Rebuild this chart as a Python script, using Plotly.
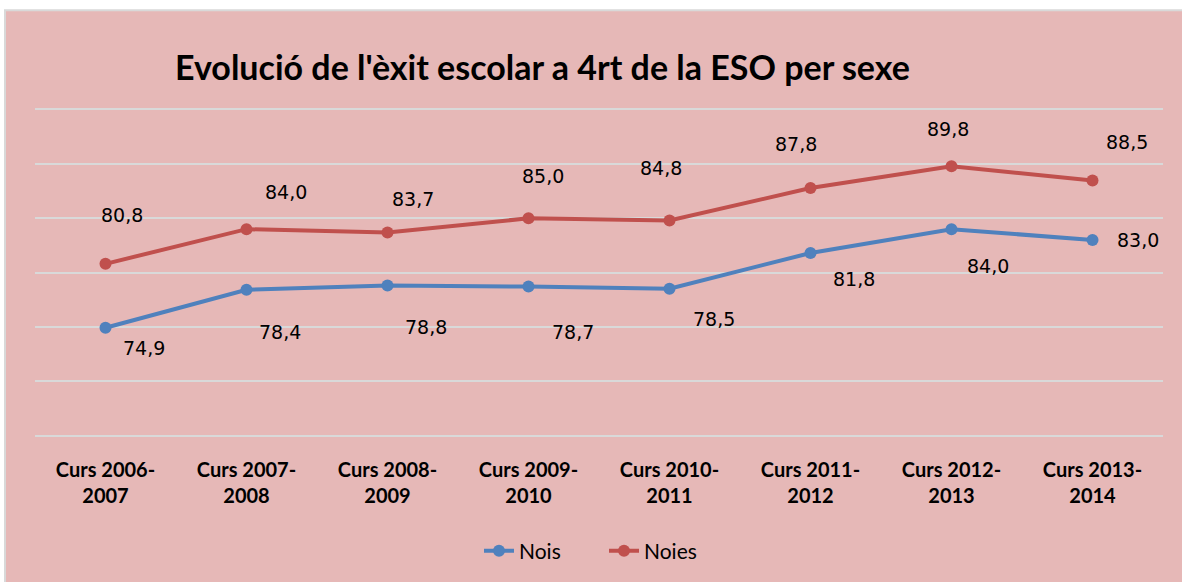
import plotly.graph_objects as go

# ---- data ----
cursos = ["Curs 2006-<br>2007", "Curs 2007-<br>2008", "Curs 2008-<br>2009", "Curs 2009-<br>2010",
          "Curs 2010-<br>2011", "Curs 2011-<br>2012", "Curs 2012-<br>2013", "Curs 2013-<br>2014"]
nois = [74.9, 78.4, 78.8, 78.7, 78.5, 81.8, 84.0, 83.0]
noies = [80.8, 84.0, 83.7, 85.0, 84.8, 87.8, 89.8, 88.5]

# ---- label offsets (pixels, style only) ----
nois_dx = [38, 33, 38, 44, 44, 43, 36, 45]
nois_dy = [-20, -42, -41, -45, -30, -26, -37, 0]
noies_dx = [16, 39, 25, 14, -9, -15, -4, 34]
noies_dy = [49, 37, 33, 42, 53, 44, 37, 38]

BLUE = "#4F81BD"
RED = "#C0504D"
PINK = "#E6B8B7"
GRID = "#D9D9D9"

W, H = 1182, 582
L, R, T, B = 35, 19, 110, 146
pw, ph = W - L - R, H - T - B

fig = go.Figure()
fig.add_trace(go.Scatter(x=cursos, y=nois, name="Nois", mode="lines+markers",
                         line=dict(color=BLUE, width=4), marker=dict(size=12, color=BLUE)))
fig.add_trace(go.Scatter(x=cursos, y=noies, name="Noies", mode="lines+markers",
                         line=dict(color=RED, width=4), marker=dict(size=12, color=RED)))

fmt = lambda v: f"{v:.1f}".replace(".", ",")
for xs, ys, dxs, dys in [(cursos, nois, nois_dx, nois_dy), (cursos, noies, noies_dx, noies_dy)]:
    for x, y, dx, dy in zip(xs, ys, dxs, dys):
        fig.add_annotation(x=x, y=y, text=fmt(y), showarrow=False, xshift=dx, yshift=dy,
                           font=dict(family="DejaVu Sans", size=19, color="#000000"))

# pink chart area with grey border
fig.add_shape(type="rect", xref="paper", yref="paper",
              x0=(5 - L) / pw, x1=(W + 10 - L) / pw,
              y0=(ph - (H + 10 - T)) / ph, y1=(ph - (10 - T)) / ph,
              fillcolor=PINK, line=dict(color=GRID, width=2), layer="below")

fig.update_layout(
    width=W, height=H,
    margin=dict(l=L, r=R, t=T, b=B),
    paper_bgcolor="white", plot_bgcolor="rgba(0,0,0,0)",
    title=dict(text="<b>Evolució de l'èxit escolar a 4rt de la ESO per sexe</b>",
               x=175 / W, xanchor="left", y=1 - 68 / H, yanchor="middle",
               font=dict(family="Lato", size=34, color="#000000")),
    showlegend=True,
    legend=dict(orientation="h", x=(604 - L) / pw, xanchor="center", y=(ph - (551 - T)) / ph,
                yanchor="middle", entrywidth=80,
                font=dict(family="Lato", size=21, color="#000000"), bgcolor="rgba(0,0,0,0)"),
    xaxis=dict(showgrid=False, zeroline=False, ticks="",
               showline=True, linecolor=GRID, linewidth=1.5, mirror=True,
               tickfont=dict(family="Lato", size=20, color="#000000", weight="bold"),
               ticklabelstandoff=16, range=[-0.5, 7.5]),
    yaxis=dict(range=[65, 95], dtick=5, tick0=65, showticklabels=False, showgrid=True,
               gridcolor=GRID, gridwidth=1.5, zeroline=False, showline=False),
)

fig.write_html("out.html", config={"displayModeBar": False},
               post_script="document.body.style.margin='0';")
